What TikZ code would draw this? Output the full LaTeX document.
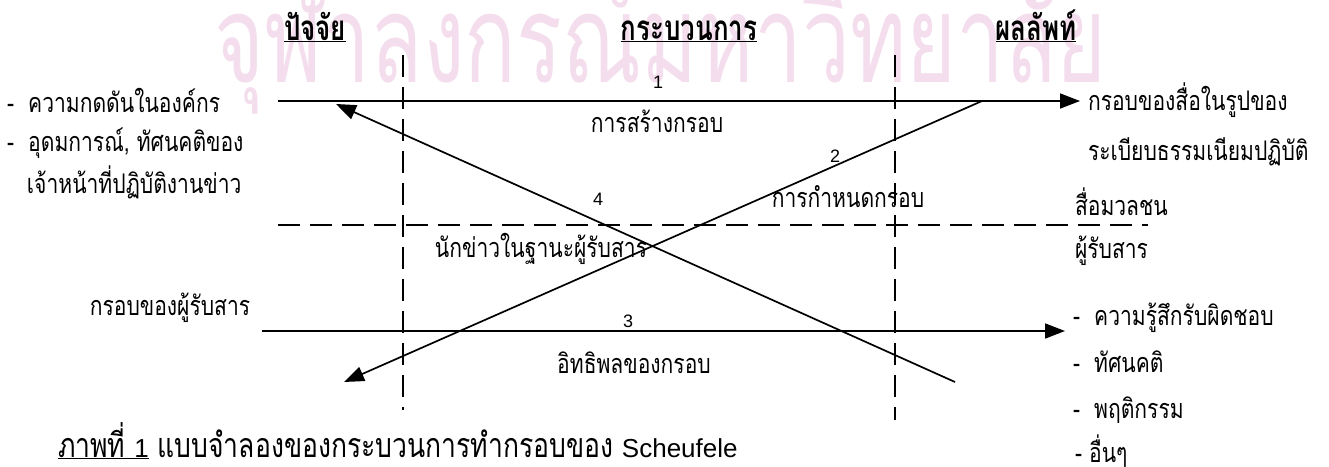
\documentclass[tikz,border=0pt]{standalone}
\usepackage{fontspec}
\usetikzlibrary{arrows.meta}
\newfontfamily\thai[Script=Thai,FakeStretch=0.78]{Loma}
\newfontfamily\thaihd[Script=Thai,FakeStretch=0.74]{Loma}
\newfontfamily\wmfont[Script=Thai,FakeStretch=0.7]{Loma}
\newfontfamily\latfont{Liberation Sans}
\definecolor{wmpink}{RGB}{244,222,238}
\tikzset{
  txt/.style={inner sep=0pt, outer sep=0pt, font=\thai\fontsize{27}{30}\selectfont, anchor=base west},
  txtc/.style={txt, anchor=base},
  hdr/.style={inner sep=0pt, font=\thaihd\bfseries\fontsize{35}{38}\selectfont, anchor=base},
  num/.style={inner sep=0pt, font=\latfont\fontsize{18}{20}\selectfont, anchor=base},
  captxt/.style={inner sep=0pt, outer sep=0pt, font=\thai\fontsize{34}{36}\selectfont, anchor=base west},
  flow/.style={line width=1.7pt, -{Triangle[length=20pt,width=15pt]}},
  divider/.style={line width=1.6pt, dash pattern=on 22pt off 10pt}
}
\begin{document}
\begin{tikzpicture}[x=1pt,y=-1pt]
\useasboundingbox (0,0) rectangle (1329,466);
% watermark
\node[inner sep=0pt, anchor=base west, text=wmpink, font=\wmfont\fontsize{122}{130}\selectfont] (wm) at (214,82) {จุฬาลงกรณ์มหาวิทยาลัย};
% headers
\node[hdr] (hfac) at (315,40) {\underline{ปัจจัย}};
\node[hdr] (hproc) at (689,40) {\underline{กระบวนการ}};
\node[hdr] (hres) at (1036,40) {\underline{ผลลัพท์}};
% dividers
\coordinate (vlt) at (403,55); \coordinate (vlb) at (403,410);
\coordinate (vrt) at (895,55); \coordinate (vrb) at (895,420);
\coordinate (hdl) at (278,225); \coordinate (hdr) at (1148,225);
\draw[divider] (vlt) -- (vlb);
\draw[divider] (vrt) -- (vrb);
\draw[divider] (hdl) -- (hdr);
% left texts
\node[txt] (f1) at (7,112) {-\ \ ความกดดันในองค์กร};
\node[txt] (f2) at (7,151) {-\ \ อุดมการณ์, ทัศนคติของ};
\node[txt] (f3) at (27,193) {เจ้าหน้าที่ปฏิบัติงานข่าว};
\node[txtc] (aud) at (170,315) {กรอบของผู้รับสาร};
% right texts
\node[txt] (r1) at (1088,110) {กรอบของสื่อในรูปของ};
\node[txt] (r2) at (1088,160) {ระเบียบธรรมเนียมปฏิบัติ};
\node[txt] (media) at (1075,215) {สื่อมวลชน};
\node[txt] (recv) at (1075,258) {ผู้รับสาร};
\node[txt] (o1) at (1073,325) {-\ \ ความรู้สึกรับผิดชอบ};
\node[txt] (o2) at (1073,372) {-\ \ ทัศนคติ};
\node[txt] (o3) at (1073,418) {-\ \ พฤติกรรม};
\node[txt] (o4) at (1075,462) {-\ อื่นๆ};
% process labels
\node[num] (n1) at (658,88) {1};
\node[txtc] (p1) at (657,132) {การสร้างกรอบ};
\node[num] (n2) at (835,162) {2};
\node[txtc] (p2) at (848,207) {การกำหนดกรอบ};
\node[num] (n4) at (598,205) {4};
\node[txtc] (p4) at (541,257) {นักข่าวในฐานะผู้รับสาร};
\node[num] (n3) at (628,327) {3};
\node[txtc] (p3) at (634,373) {อิทธิพลของกรอบ};
% caption
\node[captxt] (cap) at (58,457) {\underline{ภาพที่ {\latfont\fontsize{26}{28}\selectfont 1}} แบบจำลองของกระบวนการทำกรอบของ {\latfont\fontsize{26}{28}\selectfont Scheufele}};
% flows
\coordinate (a1s) at (278,101); \coordinate (a1e) at (1080,101);
\coordinate (a2s) at (982,101); \coordinate (a2e) at (344,382);
\coordinate (a3s) at (262,331); \coordinate (a3e) at (1065,331);
\coordinate (a4s) at (955,382); \coordinate (a4e) at (336,104);
\draw[flow] (a1s) -- (a1e);
\draw[flow] (a2s) -- (a2e);
\draw[flow] (a3s) -- (a3e);
\draw[flow] (a4s) -- (a4e);
\end{tikzpicture}
\end{document}
